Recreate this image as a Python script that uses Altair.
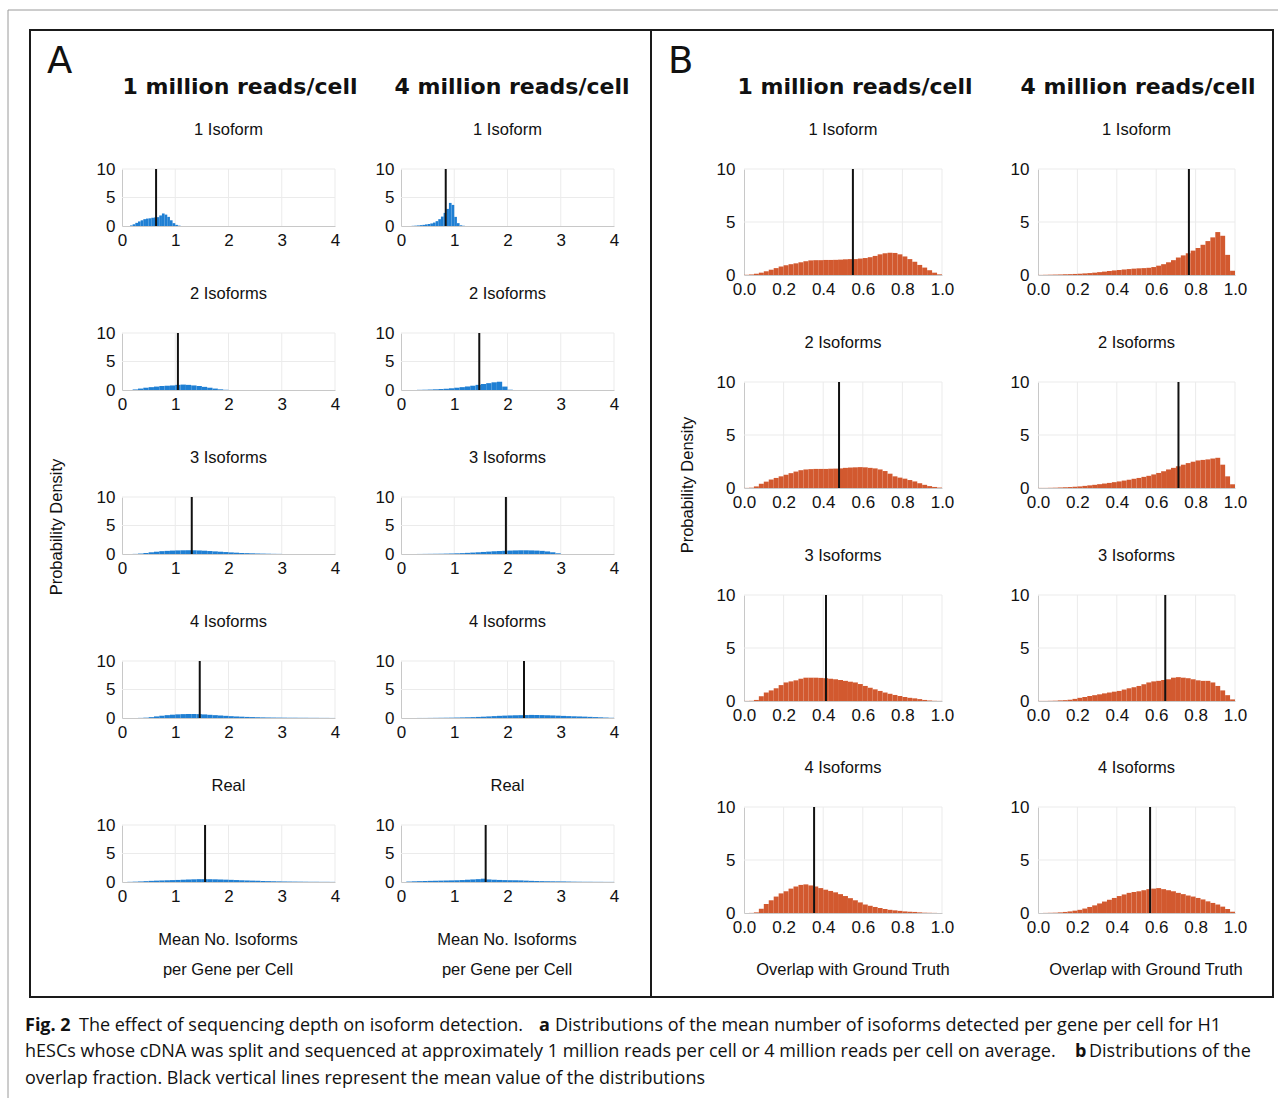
import altair as alt
import pandas as pd

# ------------------------------------------------------------------ data
DEPTHS = ["1 million reads/cell", "4 million reads/cell"]
A_TITLES = ["1 Isoform", "2 Isoforms", "3 Isoforms", "4 Isoforms", "Real"]
B_TITLES = ["1 Isoform", "2 Isoforms", "3 Isoforms", "4 Isoforms"]
A_XTICKS = [0, 1, 2, 3, 4]
B_XTICKS = [0.0, 0.2, 0.4, 0.6, 0.8, 1.0]
Y_TICKS = [0, 5, 10]

# Panel A: mean number of isoforms (bin start, bin width, densities)
a_1m_1iso_start, a_1m_1iso_width = 0.15, 0.05
a_1m_1iso = [0.1, 0.3, 0.55, 0.8, 1.0, 1.2, 1.3, 1.35, 1.45, 1.5, 1.55, 1.85, 2.2, 2.0, 1.6, 1.0, 0.5, 0.2, 0.06]
a_4m_1iso_start, a_4m_1iso_width = 0.2, 0.05
a_4m_1iso = [0.03, 0.06, 0.1, 0.15, 0.2, 0.28, 0.35, 0.45, 0.6, 0.85, 1.2, 1.65, 2.3, 3.0, 4.05, 3.7, 1.6, 0.5, 0.12, 0.04]
a_1m_2iso_start, a_1m_2iso_width = 0.2, 0.1
a_1m_2iso = [0.1, 0.25, 0.4, 0.5, 0.6, 0.7, 0.75, 0.8, 0.9, 0.95, 0.9, 0.8, 0.7, 0.55, 0.4, 0.25, 0.12, 0.04]
a_4m_2iso_start, a_4m_2iso_width = 0.3, 0.1
a_4m_2iso = [0.03, 0.05, 0.08, 0.12, 0.17, 0.22, 0.3, 0.4, 0.5, 0.62, 0.75, 0.9, 1.05, 1.2, 1.35, 1.45, 0.6, 0.05]
a_1m_3iso_start, a_1m_3iso_width = 0.2, 0.1
a_1m_3iso = [0.02, 0.08, 0.18, 0.3, 0.4, 0.5, 0.55, 0.6, 0.63, 0.65, 0.66, 0.65, 0.62, 0.58, 0.52, 0.46, 0.4, 0.34,
             0.28, 0.23, 0.18, 0.15, 0.12, 0.09, 0.07, 0.05, 0.03, 0.02]
a_4m_3iso_start, a_4m_3iso_width = 0.3, 0.1
a_4m_3iso = [0.01, 0.02, 0.03, 0.04, 0.05, 0.07, 0.09, 0.12, 0.15, 0.2, 0.25, 0.3, 0.36, 0.42, 0.48, 0.52, 0.56, 0.6,
             0.63, 0.65, 0.65, 0.63, 0.6, 0.55, 0.45, 0.3, 0.12]
a_1m_4iso_start, a_1m_4iso_width = 0.3, 0.1
a_1m_4iso = [0.02, 0.06, 0.15, 0.28, 0.4, 0.5, 0.58, 0.64, 0.68, 0.7, 0.7, 0.68, 0.63, 0.56, 0.5, 0.44, 0.38, 0.32,
             0.27, 0.23, 0.19, 0.16, 0.13, 0.11, 0.09, 0.08, 0.07, 0.06, 0.05, 0.05, 0.04, 0.04, 0.03, 0.03, 0.02,
             0.02, 0.01]
a_4m_4iso_start, a_4m_4iso_width = 0.3, 0.1
a_4m_4iso = [0.01, 0.01, 0.02, 0.03, 0.04, 0.05, 0.06, 0.08, 0.1, 0.12, 0.15, 0.19, 0.23, 0.28, 0.33, 0.38, 0.42, 0.45,
             0.48, 0.5, 0.52, 0.54, 0.53, 0.51, 0.48, 0.45, 0.41, 0.37, 0.33, 0.3, 0.27, 0.24, 0.2, 0.16, 0.12, 0.08,
             0.04]
a_1m_real_start, a_1m_real_width = 0.1, 0.1
a_1m_real = [0.03, 0.06, 0.1, 0.15, 0.2, 0.24, 0.27, 0.3, 0.33, 0.36, 0.4, 0.44, 0.47, 0.5, 0.5, 0.49, 0.47, 0.44,
             0.41, 0.38, 0.34, 0.3, 0.27, 0.24, 0.21, 0.18, 0.15, 0.13, 0.11, 0.09, 0.08, 0.07, 0.06, 0.05, 0.04,
             0.04, 0.03, 0.03, 0.02]
a_4m_real_start, a_4m_real_width = 0.1, 0.1
a_4m_real = [0.08, 0.12, 0.15, 0.18, 0.2, 0.22, 0.24, 0.26, 0.28, 0.3, 0.34, 0.4, 0.45, 0.5, 0.58, 0.45, 0.4, 0.36,
             0.33, 0.31, 0.3, 0.28, 0.24, 0.2, 0.17, 0.15, 0.13, 0.12, 0.11, 0.1, 0.08, 0.06, 0.05, 0.04, 0.04, 0.03,
             0.03, 0.02, 0.02]
A_MEANS_1M = [0.64, 1.05, 1.31, 1.46, 1.56]
A_MEANS_4M = [0.84, 1.47, 1.97, 2.31, 1.59]

# Panel B: overlap with ground truth, 40 bins of width 0.025 on [0, 1]
B_BIN_WIDTH = 0.025
b_1m_1iso = [0.02, 0.05, 0.12, 0.22, 0.35, 0.5, 0.65, 0.8, 0.92, 1.02, 1.1, 1.2, 1.3, 1.38, 1.4, 1.4, 1.42, 1.42,
             1.43, 1.45, 1.48, 1.5, 1.5, 1.55, 1.6, 1.68, 1.8, 1.95, 2.05, 2.1, 2.08, 1.95, 1.75, 1.5, 1.25, 0.95,
             0.7, 0.45, 0.22, 0.06]
b_4m_1iso = [0.01, 0.02, 0.03, 0.04, 0.05, 0.07, 0.08, 0.1, 0.12, 0.15, 0.18, 0.22, 0.27, 0.32, 0.38, 0.43, 0.47,
             0.52, 0.56, 0.6, 0.63, 0.65, 0.68, 0.75, 0.88, 1.02, 1.2, 1.4, 1.65, 1.85, 2.05, 2.3, 2.55, 2.85, 3.2,
             3.55, 4.05, 3.7, 1.9, 0.4]
b_1m_2iso = [0.01, 0.03, 0.15, 0.4, 0.6, 0.8, 0.95, 1.1, 1.25, 1.4, 1.55, 1.68, 1.75, 1.78, 1.8, 1.8, 1.8, 1.82,
             1.83, 1.85, 1.9, 1.93, 1.95, 1.97, 1.95, 1.9, 1.85, 1.75, 1.6, 1.35, 1.1, 0.98, 0.88, 0.75, 0.62, 0.45,
             0.3, 0.18, 0.1, 0.04]
b_4m_2iso = [0.01, 0.01, 0.02, 0.03, 0.05, 0.07, 0.09, 0.12, 0.15, 0.2, 0.25, 0.3, 0.36, 0.42, 0.48, 0.55, 0.62,
             0.7, 0.78, 0.87, 0.95, 1.05, 1.15, 1.28, 1.42, 1.58, 1.75, 1.9, 2.05, 2.2, 2.35, 2.48, 2.6, 2.65, 2.7,
             2.78, 2.85, 2.2, 1.1, 0.35]
b_1m_3iso = [0.01, 0.02, 0.1, 0.45, 0.8, 1.0, 1.2, 1.5, 1.75, 1.85, 1.95, 2.1, 2.2, 2.2, 2.2, 2.18, 2.15, 2.1, 2.05,
             1.98, 1.9, 1.82, 1.75, 1.6, 1.42, 1.25, 1.1, 0.95, 0.8, 0.68, 0.57, 0.47, 0.38, 0.3, 0.25, 0.18, 0.1,
             0.05, 0.02, 0.01]
b_4m_3iso = [0.01, 0.01, 0.02, 0.03, 0.06, 0.08, 0.12, 0.2, 0.3, 0.38, 0.47, 0.55, 0.63, 0.72, 0.8, 0.88, 0.95, 1.08,
             1.2, 1.3, 1.42, 1.58, 1.75, 1.85, 1.9, 1.98, 2.05, 2.2, 2.25, 2.2, 2.15, 2.05, 1.95, 1.9, 1.9, 1.75,
             1.42, 1.0, 0.55, 0.15]
b_1m_4iso = [0.0, 0.01, 0.06, 0.4, 0.85, 1.2, 1.55, 1.85, 2.05, 2.3, 2.5, 2.65, 2.7, 2.6, 2.5, 2.35, 2.2, 2.08, 1.95,
             1.78, 1.6, 1.4, 1.2, 1.0, 0.8, 0.68, 0.57, 0.47, 0.38, 0.3, 0.25, 0.2, 0.15, 0.12, 0.1, 0.06, 0.03,
             0.02, 0.01, 0.0]
b_4m_4iso = [0.0, 0.01, 0.02, 0.03, 0.06, 0.1, 0.15, 0.22, 0.3, 0.42, 0.57, 0.72, 0.9, 1.08, 1.25, 1.42, 1.6, 1.75,
             1.9, 1.98, 2.05, 2.15, 2.25, 2.3, 2.35, 2.25, 2.15, 2.05, 1.9, 1.78, 1.65, 1.55, 1.42, 1.28, 1.1, 0.95,
             0.8, 0.6, 0.38, 0.12]
B_MEANS_1M = [0.55, 0.48, 0.414, 0.354]
B_MEANS_4M = [0.766, 0.713, 0.646, 0.569]

CAPTION_1 = ["Fig. 2", "The effect of sequencing depth on isoform detection.", "a",
             "Distributions of the mean number of isoforms detected per gene per cell for H1"]
CAPTION_2 = ["hESCs whose cDNA was split and sequenced at approximately 1 million reads per cell or 4 million reads per cell on average.",
             "b", "Distributions of the"]
CAPTION_3 = "overlap fraction. Black vertical lines represent the mean value of the distributions"

# ------------------------------------------------------------------ layout / style
W, H = 1278, 1098
BLUE = "#1F7FD3"
ORANGE = "#D2592F"
GRID = "#ebebeb"
DOMAIN = "#c8c8c8"
INK = "#111111"
TICK_FONT = "Liberation Sans"
LABEL_FONT = "Liberation Sans"
CAP_FONT = "Open Sans"
CAP_SIZE = 18
ONE = pd.DataFrame({"k": [0]})

A_COLS = [(122, 335), (401, 614)]
A_ROW_TOP = [169, 333, 497, 661, 825]
A_ROW_H = 57
B_COLS = [(744, 942), (1038, 1235)]
B_ROW_TOP = [169, 382, 595, 807]
B_ROW_H = 106


def hist_df(start, width, dens):
    lo = [start + i * width for i in range(len(dens))]
    return pd.DataFrame({"lo": lo, "hi": [v + width for v in lo], "d": dens})


def panel(df, mean, xmax, xticks, xfmt, color, x0, x1, ytop, ybot, ypad):
    xs = alt.Scale(domain=[0, xmax], range=[x0, x1], nice=False, zero=False)
    ys = alt.Scale(domain=[0, 10], range=[ybot, ytop], nice=False, zero=False)
    xax = alt.Axis(orient="bottom", offset=ybot - H, values=xticks, format=xfmt, grid=False, ticks=False,
                   domainColor=DOMAIN, domainWidth=1, labelFont=TICK_FONT, labelFontSize=17, labelColor=INK,
                   labelPadding=6, labelFlush=False, labelOverlap=False, title=None)
    yax = alt.Axis(orient="left", offset=-x0, values=Y_TICKS, format="d", grid=False, ticks=False,
                   domainColor=DOMAIN, domainWidth=1, labelFont=TICK_FONT, labelFontSize=17, labelColor=INK,
                   labelPadding=ypad, labelFlush=False, labelOverlap=False, title=None)

    def X(f):
        return alt.X(f, type="quantitative", scale=xs, axis=xax)

    def Y(f):
        return alt.Y(f, type="quantitative", scale=ys, axis=yax)

    gv = pd.DataFrame({"g": xticks[1:], "lo": 0, "hi": 10})
    gh = pd.DataFrame({"g": Y_TICKS[1:], "lo": 0, "hi": xmax})
    vgrid = alt.Chart(gv).mark_rule(color=GRID, strokeWidth=1).encode(x=X("g"), y=Y("lo"), y2="hi")
    hgrid = alt.Chart(gh).mark_rule(color=GRID, strokeWidth=1).encode(y=Y("g"), x=X("lo"), x2="hi")
    bars = alt.Chart(df).mark_bar(color=color, stroke=None).encode(x=X("lo"), x2="hi", y=Y("d"), y2=alt.datum(0))
    mdf = pd.DataFrame({"m": [mean], "lo": [0], "hi": [10]})
    mline = alt.Chart(mdf).mark_rule(color="#111111", strokeWidth=2).encode(x=X("m"), y=Y("lo"), y2="hi")
    return alt.layer(vgrid, hgrid, bars, mline)


def txt(s, x, y, size, font=LABEL_FONT, weight="normal", align="center", angle=0, color=INK):
    return alt.Chart(ONE).mark_text(text=s, fontSize=size, font=font, fontWeight=weight, align=align,
                                    baseline="middle", angle=angle, color=color).encode(
        x=alt.value(x), y=alt.value(y))


layers = []
# frame
layers.append(alt.Chart(ONE).mark_rule(color="#9a9a9a", strokeWidth=1).encode(
    x=alt.value(8), y=alt.value(10), y2=alt.value(H)))
layers.append(alt.Chart(ONE).mark_rule(color="#9a9a9a", strokeWidth=1).encode(
    y=alt.value(10), x=alt.value(8), x2=alt.value(W)))
for bx0, bx1 in [(30, 651), (651, 1273)]:
    layers.append(alt.Chart(ONE).mark_rect(fillOpacity=0, stroke="#1a1a1a", strokeWidth=2).encode(
        x=alt.value(bx0), x2=alt.value(bx1), y=alt.value(30), y2=alt.value(997)))

# panel letters, headers, axis titles
layers.append(txt("A", 47, 62, 37, font="DejaVu Sans", align="left"))
layers.append(txt("B", 668, 62, 37, font="DejaVu Sans", align="left"))
for cx, s in zip([240, 512], DEPTHS):
    layers.append(txt(s, cx, 87, 22, font="DejaVu Sans", weight="bold"))
for cx, s in zip([855, 1138], DEPTHS):
    layers.append(txt(s, cx, 87, 22, font="DejaVu Sans", weight="bold"))
layers.append(txt("Probability Density", 57, 527, 16.5, angle=270))
layers.append(txt("Probability Density", 688, 485, 16.5, angle=270))
for cx in [228, 507]:
    layers.append(txt("Mean No. Isoforms", cx, 940, 16.5))
    layers.append(txt("per Gene per Cell", cx, 970, 16.5))
for cx in [853, 1146]:
    layers.append(txt("Overlap with Ground Truth", cx, 970, 16.5))

# panel titles
for r, t in enumerate(A_TITLES):
    for (x0, x1) in A_COLS:
        layers.append(txt(t, (x0 + x1) / 2, A_ROW_TOP[r] - 39, 16.5))
for r, t in enumerate(B_TITLES):
    for (x0, x1) in B_COLS:
        layers.append(txt(t, (x0 + x1) / 2, B_ROW_TOP[r] - 39, 16.5))

# caption
layers.append(txt(CAPTION_1[0], 25, 1026, CAP_SIZE, font=CAP_FONT, weight="bold", align="left"))
layers.append(txt(CAPTION_1[1], 79, 1026, CAP_SIZE, font=CAP_FONT, align="left"))
layers.append(txt(CAPTION_1[2], 539, 1026, CAP_SIZE, font=CAP_FONT, weight="bold", align="left"))
layers.append(txt(CAPTION_1[3], 555, 1026, CAP_SIZE, font=CAP_FONT, align="left"))
layers.append(txt(CAPTION_2[0], 25, 1052, CAP_SIZE, font=CAP_FONT, align="left"))
layers.append(txt(CAPTION_2[1], 1075, 1052, CAP_SIZE, font=CAP_FONT, weight="bold", align="left"))
layers.append(txt(CAPTION_2[2], 1089, 1052, CAP_SIZE, font=CAP_FONT, align="left"))
layers.append(txt(CAPTION_3, 25, 1079, CAP_SIZE, font=CAP_FONT, align="left"))

# histograms
A_DATA = [
    (hist_df(a_1m_1iso_start, a_1m_1iso_width, a_1m_1iso), hist_df(a_4m_1iso_start, a_4m_1iso_width, a_4m_1iso)),
    (hist_df(a_1m_2iso_start, a_1m_2iso_width, a_1m_2iso), hist_df(a_4m_2iso_start, a_4m_2iso_width, a_4m_2iso)),
    (hist_df(a_1m_3iso_start, a_1m_3iso_width, a_1m_3iso), hist_df(a_4m_3iso_start, a_4m_3iso_width, a_4m_3iso)),
    (hist_df(a_1m_4iso_start, a_1m_4iso_width, a_1m_4iso), hist_df(a_4m_4iso_start, a_4m_4iso_width, a_4m_4iso)),
    (hist_df(a_1m_real_start, a_1m_real_width, a_1m_real), hist_df(a_4m_real_start, a_4m_real_width, a_4m_real)),
]
B_DATA = [
    (b_1m_1iso, b_4m_1iso), (b_1m_2iso, b_4m_2iso), (b_1m_3iso, b_4m_3iso), (b_1m_4iso, b_4m_4iso),
]

for r in range(5):
    for c in range(2):
        x0, x1 = A_COLS[c]
        mean = (A_MEANS_1M if c == 0 else A_MEANS_4M)[r]
        layers.append(panel(A_DATA[r][c], mean, 4, A_XTICKS, "d", BLUE, x0, x1,
                            A_ROW_TOP[r], A_ROW_TOP[r] + A_ROW_H, 7))
for r in range(4):
    for c in range(2):
        x0, x1 = B_COLS[c]
        mean = (B_MEANS_1M if c == 0 else B_MEANS_4M)[r]
        df = hist_df(0.0, B_BIN_WIDTH, B_DATA[r][c])
        layers.append(panel(df, mean, 1, B_XTICKS, ".1f", ORANGE, x0, x1,
                            B_ROW_TOP[r], B_ROW_TOP[r] + B_ROW_H, 9))

chart = alt.layer(*layers).resolve_scale(x="independent", y="independent").properties(
    width=W, height=H, padding=0, autosize=alt.AutoSizeParams(type="none"), background="white"
).configure_view(stroke=None)

chart.save("out.html", embed_options={"renderer": "svg", "actions": False})
